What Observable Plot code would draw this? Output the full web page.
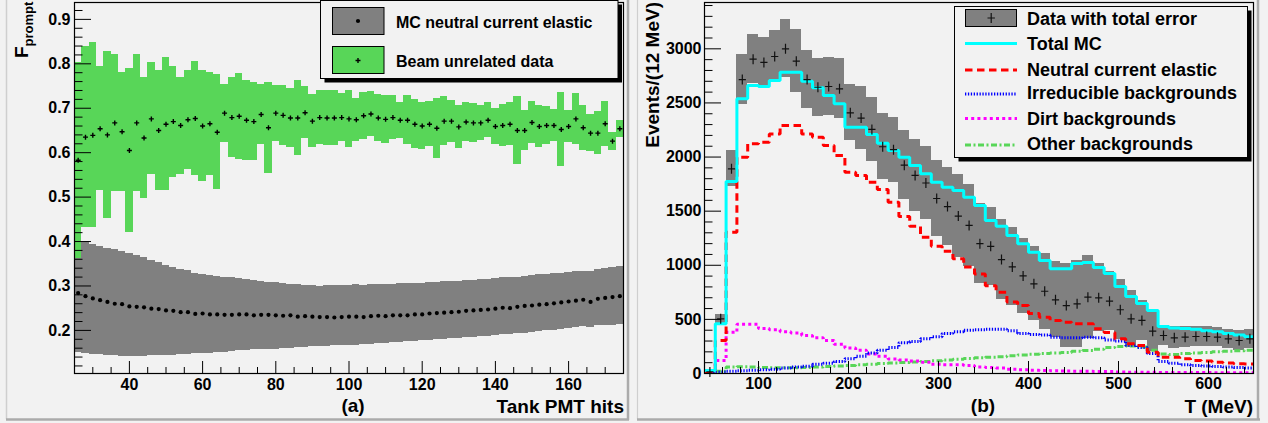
<!DOCTYPE html>
<html><head><meta charset="utf-8">
<script src="https://cdn.jsdelivr.net/npm/d3@7"></script>
<script src="https://cdn.jsdelivr.net/npm/@observablehq/plot@0.6"></script>
<style>
html,body{margin:0;padding:0;background:#f2f2f2;}
#wrap{position:relative;width:1268px;height:423px;overflow:hidden;background:#f2f2f2;}
#wrap svg{position:absolute;top:0;}
</style></head><body><div id="wrap"></div>
<script>
// ---------- Panel (a): F_prompt vs Tank PMT hits ----------
const pmtHits = [26,28,30,32,34,36,38,40,42,44,46,48,50,52,54,56,58,60,62,64,66,68,70,72,74,76,78,80,82,84,86,88,90,92,94,96,98,100,102,104,106,108,110,112,114,116,118,120,122,124,126,128,130,132,134,136,138,140,142,144,146,148,150,152,154,156,158,160,162,164,166,168,170,172,174];
const mcMean = [0.284,0.277,0.272,0.268,0.264,0.260,0.259,0.254,0.253,0.252,0.249,0.248,0.245,0.244,0.241,0.241,0.237,0.238,0.236,0.236,0.235,0.235,0.236,0.236,0.234,0.235,0.235,0.234,0.233,0.234,0.231,0.232,0.231,0.230,0.230,0.229,0.230,0.231,0.231,0.230,0.232,0.233,0.232,0.234,0.234,0.234,0.236,0.236,0.238,0.239,0.240,0.241,0.242,0.244,0.245,0.246,0.247,0.249,0.251,0.250,0.253,0.255,0.256,0.258,0.259,0.261,0.263,0.265,0.267,0.269,0.264,0.271,0.273,0.275,0.277];
const mcHigh = [0.401,0.397,0.393,0.389,0.385,0.381,0.378,0.374,0.368,0.364,0.358,0.352,0.347,0.342,0.338,0.334,0.329,0.326,0.323,0.321,0.319,0.318,0.316,0.314,0.312,0.310,0.308,0.307,0.306,0.304,0.303,0.302,0.300,0.299,0.300,0.301,0.302,0.302,0.303,0.302,0.303,0.304,0.303,0.304,0.305,0.305,0.306,0.306,0.307,0.308,0.309,0.310,0.311,0.312,0.313,0.314,0.315,0.316,0.318,0.319,0.320,0.322,0.323,0.325,0.326,0.328,0.329,0.331,0.332,0.333,0.332,0.338,0.340,0.342,0.344];
const mcLow = [0.151,0.147,0.146,0.145,0.144,0.143,0.142,0.142,0.142,0.142,0.143,0.143,0.144,0.144,0.145,0.146,0.147,0.148,0.149,0.150,0.151,0.152,0.154,0.155,0.156,0.157,0.158,0.158,0.159,0.160,0.161,0.162,0.163,0.164,0.164,0.165,0.165,0.166,0.167,0.168,0.169,0.170,0.171,0.172,0.173,0.174,0.176,0.177,0.178,0.179,0.180,0.181,0.182,0.183,0.185,0.186,0.187,0.189,0.190,0.191,0.193,0.194,0.196,0.197,0.199,0.200,0.202,0.205,0.207,0.209,0.206,0.210,0.211,0.212,0.2135];
const beamMean = [0.583,0.635,0.639,0.654,0.640,0.667,0.647,0.605,0.667,0.633,0.676,0.650,0.664,0.670,0.661,0.674,0.677,0.660,0.665,0.646,0.689,0.679,0.682,0.673,0.670,0.686,0.656,0.689,0.684,0.678,0.678,0.690,0.671,0.679,0.678,0.678,0.679,0.676,0.674,0.683,0.687,0.678,0.675,0.679,0.673,0.673,0.664,0.660,0.664,0.655,0.671,0.671,0.658,0.669,0.667,0.667,0.673,0.659,0.661,0.664,0.650,0.650,0.668,0.659,0.661,0.661,0.652,0.659,0.676,0.656,0.644,0.644,0.665,0.626,0.654];
const beamErr = [0.221,0.203,0.208,0.139,0.188,0.154,0.134,0.185,0.154,0.137,0.126,0.136,0.150,0.125,0.109,0.111,0.129,0.124,0.116,0.130,0.065,0.090,0.097,0.090,0.087,0.068,0.102,0.063,0.068,0.067,0.085,0.059,0.060,0.061,0.061,0.062,0.054,0.064,0.049,0.053,0.051,0.053,0.054,0.049,0.041,0.055,0.055,0.053,0.051,0.067,0.055,0.047,0.049,0.044,0.044,0.039,0.039,0.041,0.047,0.048,0.077,0.044,0.047,0.048,0.042,0.036,0.083,0.036,0.058,0.050,0.041,0.048,0.051,0.020,0.019];
const pmtMajorTicks = [40,60,80,100,120,140,160];
const fMajorTicks = [0.2,0.3,0.4,0.5,0.6,0.7,0.8,0.9];

// ---------- Panel (b): Events vs T ----------
const tBins = [46,58,70,82,94,106,118,130,142,154,166,178,190,202,214,226,238,250,262,274,286,298,310,322,334,346,358,370,382,394,406,418,430,442,454,466,478,490,502,514,526,538,550,562,574,586,598,610,622,634,646];
const dataEvents = [15,505,1891,2716,2904,2874,2929,3000,2886,2716,2645,2652,2630,2409,2360,2255,2095,2068,1925,1830,1760,1617,1542,1455,1368,1200,1175,1053,985,902,829,760,681,628,644,705,699,668,589,505,490,391,351,330,336,342,342,336,320,305,320];
const totalErr = [15,40,165,230,228,233,240,268,290,270,268,265,278,260,290,292,305,300,320,330,340,350,360,380,380,370,360,370,360,350,340,350,350,390,400,385,315,270,277,262,185,190,92,100,95,90,88,85,85,92,85];
const totalMC = [28,459,1774,2538,2661,2652,2707,2784,2784,2701,2640,2569,2492,2276,2276,2208,2128,2060,1999,1922,1845,1768,1720,1691,1629,1552,1414,1361,1275,1198,1121,1044,967,967,1016,1025,980,924,804,711,647,582,434,420,415,410,395,385,370,355,340];
const ncElastic = [10,305,1306,1999,2122,2137,2214,2292,2292,2214,2183,2107,2014,1860,1830,1768,1700,1583,1450,1360,1260,1175,1130,1060,985,920,810,750,660,628,554,520,490,474,459,459,413,379,320,274,259,197,151,151,136,120,115,105,97,90,88];
const irreducible = [10,15,21,26,30,34,40,50,60,68,85,95,110,136,160,190,215,240,285,295,320,340,370,385,400,405,410,410,395,370,360,355,335,330,330,335,330,310,300,260,240,185,110,95,80,75,70,65,60,55,50];
const dirt = [0,120,380,455,455,415,405,385,375,350,330,305,270,235,215,180,160,135,125,115,105,85,80,80,75,60,55,50,40,35,30,28,25,22,20,20,18,18,15,12,12,11,10,10,10,9,9,8,8,8,8];
const other = [0,20,60,62,60,55,52,52,54,56,60,65,70,74,80,85,92,97,102,106,112,118,125,132,138,145,150,155,165,172,178,185,190,195,205,212,225,240,250,255,245,215,180,175,185,190,195,200,205,210,215];
const tMajorTicks = [100,200,300,400,500,600];
const evMajorTicks = [0,500,1000,1500,2000,2500,3000];

// ---------- helpers ----------
const GREEN = "#58d658", GRAY = "#808080";
const FONT = "'Liberation Sans', Arial, Helvetica, sans-serif";
const plusSym = (wx) => ({draw(ctx, size){ const r = Math.sqrt(size/Math.PI); ctx.moveTo(-r*wx,0); ctx.lineTo(r*wx,0); ctx.moveTo(0,-r); ctx.lineTo(0,r); }});
const style = {fontFamily: FONT, fontSize: "16px", fontWeight: "bold", background: "transparent", color: "black", overflow: "visible"};

function axesMarks(xMaj, xMin, yMaj, yMin, xPad, yPad, yFmt, xFmt) {
  return [
    Plot.axisX({ticks: xMin, tickSize: -6, fill: "none", label: null, anchor: "bottom"}),
    Plot.axisX({ticks: xMaj, tickSize: -12, fill: "none", label: null, anchor: "bottom"}),
    Plot.axisX({ticks: xMaj, tickSize: 0, tickPadding: xPad, label: null, anchor: "bottom", tickFormat: xFmt}),
    Plot.axisY({ticks: yMin, tickSize: -8.5, fill: "none", label: null, anchor: "left"}),
    Plot.axisY({ticks: yMaj, tickSize: -17, fill: "none", label: null, anchor: "left"}),
    Plot.axisY({ticks: yMaj, tickSize: 0, tickPadding: yPad, label: null, anchor: "left", tickFormat: yFmt})
  ];
}

// ---------- left plot ----------
const pmtTable = pmtHits.map((x, i) => ({x, mc: mcMean[i], lo: mcLow[i], hi: mcHigh[i], bg: beamMean[i], err: beamErr[i]}));
const pmtMinor = d3.range(25, 176, 5).filter(v => !pmtMajorTicks.includes(v));
const fMinor = d3.range(6, 47).map(k => k / 50).filter(v => !fMajorTicks.some(m => Math.abs(m - v) < 1e-9));

const left = Plot.plot({
  width: 632, height: 423,
  marginLeft: 74, marginRight: 9, marginTop: 2, marginBottom: 50,
  x: {domain: [25, 175]},
  y: {domain: [0.103, 0.938]},
  style,
  marks: [
    Plot.rect(pmtTable, {x1: d => d.x - 1, x2: d => d.x + 1, y1: "lo", y2: "hi", fill: GRAY, shapeRendering: "crispEdges"}),
    Plot.rect(pmtTable, {x1: d => d.x - 1, x2: d => d.x + 1, y1: d => d.bg - d.err, y2: d => d.bg + d.err, fill: GREEN, shapeRendering: "crispEdges"}),
    Plot.dot(pmtTable, {x: "x", y: "mc", r: 2.1, fill: "black", stroke: "none"}),
    Plot.dot(pmtTable, {x: "x", y: "bg", r: 2.5, symbol: plusSym(1), fill: "none", stroke: "black", strokeWidth: 1.4}),
    Plot.frame({stroke: "black", strokeWidth: 1.2}),
    ...axesMarks(pmtMajorTicks, pmtMinor, fMajorTicks, fMinor, 5, 4, d => d.toFixed(1), d => String(d))
  ]
});
left.style.left = "0px";
document.getElementById("wrap").appendChild(left);

// ---------- right plot ----------
const tTable = tBins.map((c, i) => ({c, x1: Math.max(40, c - 6), x2: c + 6, data: dataEvents[i], err: totalErr[i]}));
function steps(values) {
  const pts = tBins.map((c, i) => ({x: Math.max(40, c - 6), v: values[i]}));
  pts.push({x: tBins[tBins.length - 1] + 6, v: values[values.length - 1]});
  return pts;
}
const tMinor = d3.range(40, 650, 20).filter(v => !tMajorTicks.includes(v));
const evMinor = d3.range(100, 3500, 100).filter(v => !evMajorTicks.includes(v));
const lineStyles = [
  {vals: other, stroke: GREEN, dash: "6,2.5,2,2.5"},
  {vals: dirt, stroke: "#ff00ff", dash: "3,3.2"},
  {vals: irreducible, stroke: "#0000ff", dash: "1.3,1.6"},
  {vals: ncElastic, stroke: "#ff0000", dash: "7.5,4.5"},
  {vals: totalMC, stroke: "#00ffff", dash: null}
];
const right = Plot.plot({
  width: 636, height: 423,
  marginLeft: 72, marginRight: 15, marginTop: 2, marginBottom: 50,
  x: {domain: [40, 650]},
  y: {domain: [0, 3428]},
  style,
  marks: [
    Plot.rect(tTable, {x1: "x1", x2: "x2", y1: d => d.data - d.err, y2: d => d.data + d.err, fill: GRAY, clip: true, shapeRendering: "crispEdges"}),
    ...lineStyles.map(s => Plot.line(steps(s.vals), {x: "x", y: "v", curve: "step-after", stroke: s.stroke, strokeWidth: 3, strokeDasharray: s.dash, strokeLinecap: "butt", strokeLinejoin: "miter", clip: true})),
    Plot.dot(tTable, {x: "c", y: "data", r: 5, symbol: plusSym(0.72), fill: "none", stroke: "#111", strokeWidth: 1.2}),
    Plot.frame({stroke: "black", strokeWidth: 1.2}),
    ...axesMarks(tMajorTicks, tMinor, evMajorTicks, evMinor, 4, 3, d => String(d), d => String(d))
  ]
});
right.style.left = "632px";
document.getElementById("wrap").appendChild(right);

// ---------- overlay: pad borders, legends, axis titles ----------
const ov = d3.select("#wrap").append("svg")
  .attr("width", 1268).attr("height", 423)
  .style("left", "0px").style("pointer-events", "none")
  .attr("font-family", FONT).attr("font-weight", "bold");

// pad borders
ov.append("line").attr("x1", 6.5).attr("x2", 6.5).attr("y1", 0).attr("y2", 419).attr("stroke", "#cfcfcf").attr("stroke-width", 1.5);
ov.append("line").attr("x1", 6).attr("x2", 629).attr("y1", 419.5).attr("y2", 419.5).attr("stroke", "#ababab").attr("stroke-width", 2.5);
ov.append("line").attr("x1", 628).attr("x2", 628).attr("y1", 0).attr("y2", 420).attr("stroke", "#ababab").attr("stroke-width", 2.5);
ov.append("line").attr("x1", 637.5).attr("x2", 637.5).attr("y1", 0).attr("y2", 419).attr("stroke", "#cfcfcf").attr("stroke-width", 1.2);
ov.append("line").attr("x1", 637).attr("x2", 1260).attr("y1", 419.5).attr("y2", 419.5).attr("stroke", "#ababab").attr("stroke-width", 2.5);
ov.append("line").attr("x1", 1258).attr("x2", 1258).attr("y1", 0).attr("y2", 420).attr("stroke", "#ababab").attr("stroke-width", 2.5);

function text(x, y, s, size, anchor) {
  return ov.append("text").attr("x", x).attr("y", y).attr("font-size", size).attr("text-anchor", anchor || "start").attr("fill", "black").text(s);
}

// axis titles
text(353, 412, "(a)", 19, "middle");
text(624, 412.5, "Tank PMT hits", 19, "end");
text(983, 412, "(b)", 19, "middle");
text(1253, 412.5, "T (MeV)", 19, "end");
const fp = ov.append("text").attr("transform", "translate(28,58) rotate(-90)").attr("font-size", 19).attr("fill", "black");
fp.append("tspan").text("F");
fp.append("tspan").attr("font-size", 13).attr("dy", 4.5).text("prompt");
ov.append("text").attr("transform", "translate(659,2) rotate(-90)").attr("font-size", 19).attr("text-anchor", "end").attr("fill", "black").text("Events/(12 MeV)");

// left legend
ov.append("rect").attr("x", 324.5).attr("y", 4.5).attr("width", 297.5).attr("height", 78).attr("fill", "black");
ov.append("rect").attr("x", 320.5).attr("y", 0.5).attr("width", 297.5).attr("height", 78).attr("fill", "#f2f2f2").attr("stroke", "black");
ov.append("rect").attr("x", 332.5).attr("y", 7.5).attr("width", 51.5).attr("height", 27).attr("fill", GRAY).attr("stroke", "black");
ov.append("circle").attr("cx", 358).attr("cy", 21).attr("r", 2.1).attr("fill", "black");
ov.append("rect").attr("x", 332.5).attr("y", 46.5).attr("width", 51.5).attr("height", 27).attr("fill", GREEN).attr("stroke", "black");
ov.append("path").attr("d", "M355.5,60.5h5M358,58v5").attr("stroke", "black").attr("stroke-width", 1.4);
text(396, 27.5, "MC neutral current elastic", 16);
text(396, 66.5, "Beam unrelated data", 16);

// right legend
ov.append("rect").attr("x", 958.5).attr("y", 10.5).attr("width", 293).attr("height", 151).attr("fill", "black");
ov.append("rect").attr("x", 954.5).attr("y", 6.5).attr("width", 293).attr("height", 151).attr("fill", "#f2f2f2").attr("stroke", "black");
ov.append("rect").attr("x", 965.5).attr("y", 9.5).attr("width", 51).attr("height", 17).attr("fill", GRAY).attr("stroke", "black");
ov.append("path").attr("d", "M987.5,18h7.4M991.2,13v10").attr("stroke", "#111").attr("stroke-width", 1.2);
const legRows = [
  {y: 43.5, stroke: "#00ffff", dash: null, label: "Total MC", base: 50},
  {y: 70, stroke: "#ff0000", dash: "7.5,4.5", label: "Neutral current elastic", base: 76},
  {y: 94, stroke: "#0000ff", dash: "1.3,1.6", label: "Irreducible backgrounds", base: 99},
  {y: 118.5, stroke: "#ff00ff", dash: "3,3.2", label: "Dirt backgrounds", base: 124.5},
  {y: 145, stroke: GREEN, dash: "6,2.5,2,2.5", label: "Other backgrounds", base: 150}
];
text(1027, 25, "Data with total error", 18);
for (const r of legRows) {
  const l = ov.append("line").attr("x1", 965).attr("x2", 1017).attr("y1", r.y).attr("y2", r.y).attr("stroke", r.stroke).attr("stroke-width", 3);
  if (r.dash) l.attr("stroke-dasharray", r.dash);
  text(1027, r.base, r.label, 18);
}
</script>
</body></html>
